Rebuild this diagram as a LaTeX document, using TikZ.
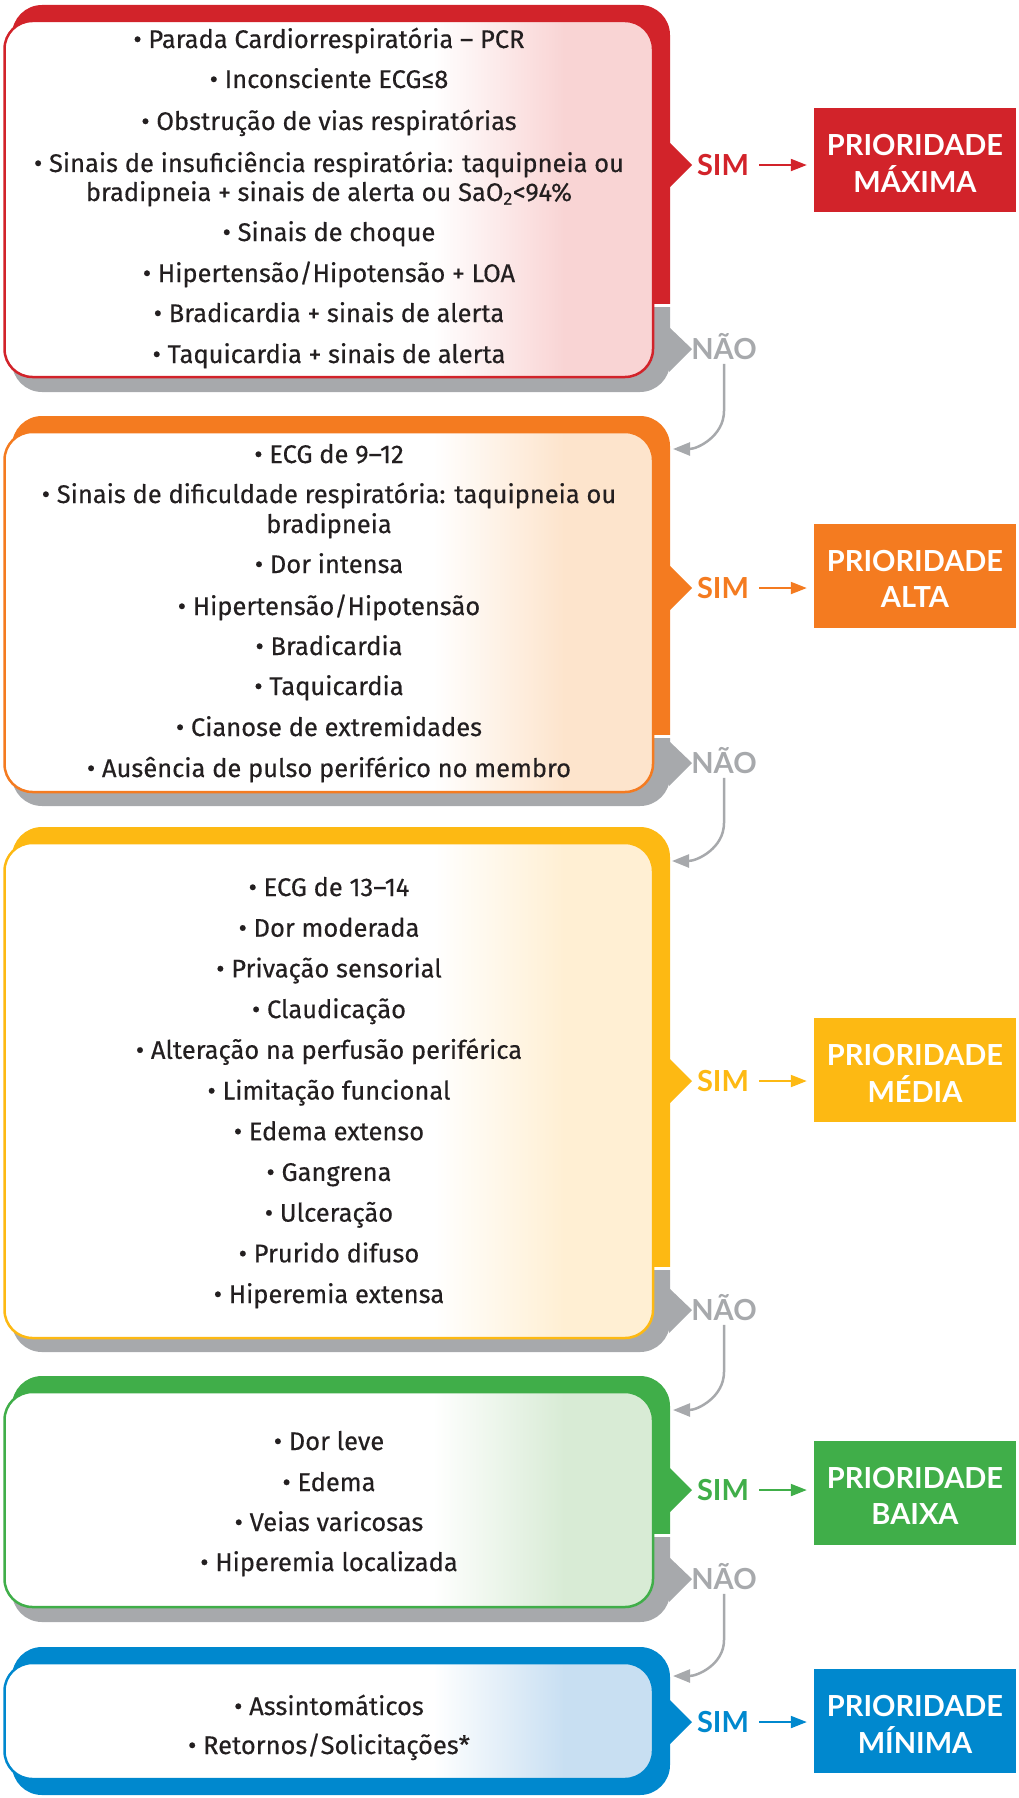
\documentclass[tikz,border=0pt]{standalone}
\usepackage{fontspec}
\setmainfont{Fira Sans}
\newfontfamily\itemfont{Fira Sans}[FakeBold=0.35]
\newfontfamily\labelfont{Lato}
\usetikzlibrary{arrows.meta}
\definecolor{cred}{HTML}{D2232A}
\definecolor{credl}{HTML}{F9D4D4}
\definecolor{corange}{HTML}{F47B20}
\definecolor{corangel}{HTML}{FDE4CC}
\definecolor{cyellow}{HTML}{FDB913}
\definecolor{cyellowl}{HTML}{FFEFD3}
\definecolor{cgreen}{HTML}{40AE49}
\definecolor{cgreenl}{HTML}{D8EBD5}
\definecolor{cblue}{HTML}{0088CE}
\definecolor{cbluel}{HTML}{C8DFF2}
\definecolor{cgray}{HTML}{A7A9AC}
\definecolor{ctext}{HTML}{231F20}
% #1 colour, #2 top, #3 bottom, #4 SIM y, #5 NAO y, #6 end of coloured part
\newcommand\backshape[6]{%
  \begin{scope}
    \clip (0,#2-10) rectangle (1018,#6);
    \fill[#1,rounded corners=30] (12,#2) rectangle (670,#3);
    \fill[#1] (669,#4-23) -- (692,#4) -- (669,#4+23) -- cycle;
  \end{scope}
  \begin{scope}
    \clip (0,#6+4) rectangle (1018,#3+10);
    \fill[cgray,rounded corners=30] (12,#2) rectangle (670,#3);
    \fill[cgray] (669,#5-22) -- (692,#5) -- (669,#5+23) -- cycle;
  \end{scope}}
% #1 colour, #2 light, #3 inner top, #4 inner bottom
\newcommand\innerbox[4]{%
  \begin{scope}
    \clip[rounded corners=28] (4.5,#3) rectangle (653,#4);
    \fill[white] (0,#3) rectangle (435,#4);
    \shade[left color=white,right color=#2] (433,#3) rectangle (565,#4);
    \fill[#2] (563,#3) rectangle (660,#4);
  \end{scope}
  \draw[#1,line width=2.5pt,rounded corners=28] (4.5,#3) rectangle (653,#4);}
\newcommand\prio[1]{\raisebox{-6pt}[\height][\depth]{\begin{tabular}{@{}c@{}}PRIORIDADE\\[-1.5pt]#1\end{tabular}}}
\tikzset{
  item/.style={anchor=base, text=ctext, inner sep=0pt, font=\itemfont\fontsize{25.5}{30}\selectfont},
  yesno/.style={anchor=base, inner sep=0pt, font=\labelfont\bfseries\fontsize{29}{34}\selectfont},
  pbox/.style={minimum width=202pt, minimum height=104pt, inner sep=0pt, text=white,
    font=\labelfont\bfseries\fontsize{29}{38}\selectfont},
  simarrow/.style={line width=2pt, -{Triangle[length=16pt,width=12pt]}},
  noarrow/.style={cgray, line width=2.5pt, shorten <=4pt, -{Triangle[length=17pt,width=13pt]}}
}
\begin{document}
\begin{tikzpicture}[x=1pt,y=-1pt]
\useasboundingbox (0,0) rectangle (1018,1798);
% ---------- block 1 (red)
\backshape{cred}{5}{392}{165}{349}{303}
\innerbox{cred}{credl}{21}{377}
\node[item] (a1) at (329,48) {• Parada Cardiorrespiratória – PCR};
\node[item] (a2) at (329,88) {• Inconsciente ECG≤8};
\node[item] (a3) at (329,130) {• Obstrução de vias respiratórias};
\node[item] (a4) at (329,172) {• Sinais de insuficiência respiratória: taquipneia ou};
\node[item] (a4b) at (329,201) {bradipneia + sinais de alerta ou SaO\textsubscript{2}<94\%};
\node[item] (a5) at (329,241) {• Sinais de choque};
\node[item] (a6) at (329,282) {• Hipertensão/Hipotensão + LOA};
\node[item] (a7) at (329,322) {• Bradicardia + sinais de alerta};
\node[item] (a8) at (329,363) {• Taquicardia + sinais de alerta};
\node[yesno,text=cred] (s1) at (723,175.5) {SIM};
\node[pbox,fill=cred] (p1) at (915,160) {\prio{MÁXIMA}};
\draw[simarrow,cred] ([xshift=10pt]s1.east) -- ([xshift=-7pt]s1.east -| p1.west);
\node[yesno,text=cgray] (n1) at (724,359.5) {NÃO};
% ---------- block 2 (orange)
\backshape{corange}{416}{806}{588}{763}{734}
\innerbox{corange}{corangel}{432}{792}
\node[item] (b1) at (329,463) {• ECG de 9–12};
\node[item] (b2) at (329,503) {• Sinais de dificuldade respiratória: taquipneia ou};
\node[item] (b2b) at (329,533) {bradipneia};
\node[item] (b3) at (329,573) {• Dor intensa};
\node[item] (b4) at (329,615) {• Hipertensão/Hipotensão};
\node[item] (b5) at (329,655) {• Bradicardia};
\node[item] (b6) at (329,695) {• Taquicardia};
\node[item] (b7) at (329,736) {• Cianose de extremidades};
\node[item] (b8) at (329,777) {• Ausência de pulso periférico no membro};
\node[yesno,text=corange] (s2) at (723,598.5) {SIM};
\node[pbox,fill=corange] (p2) at (915,576) {\prio{ALTA}};
\draw[simarrow,corange] ([xshift=10pt]s2.east) -- ([xshift=-7pt]s2.east -| p2.west);
\node[yesno,text=cgray] (n2) at (724,773.5) {NÃO};
\coordinate (t2) at (673,449);
\draw[noarrow] (n1.south) -- ([yshift=38pt]t2 -| n1.south) to[out=-90,in=0] (t2);
% ---------- block 3 (yellow)
\backshape{cyellow}{827}{1352}{1081}{1310}{1266}
\innerbox{cyellow}{cyellowl}{843}{1338}
\node[item] (c1) at (329,896) {• ECG de 13–14};
\node[item] (c2) at (329,936.7) {• Dor moderada};
\node[item] (c3) at (329,977.4) {• Privação sensorial};
\node[item] (c4) at (329,1018.1) {• Claudicação};
\node[item] (c5) at (329,1058.8) {• Alteração na perfusão periférica};
\node[item] (c6) at (329,1099.5) {• Limitação funcional};
\node[item] (c7) at (329,1140.2) {• Edema extenso};
\node[item] (c8) at (329,1180.9) {• Gangrena};
\node[item] (c9) at (329,1221.6) {• Ulceração};
\node[item] (c10) at (329,1262.3) {• Prurido difuso};
\node[item] (c11) at (329,1303) {• Hiperemia extensa};
\node[yesno,text=cyellow] (s3) at (723,1091.5) {SIM};
\node[pbox,fill=cyellow] (p3) at (915,1070) {\prio{MÉDIA}};
\draw[simarrow,cyellow] ([xshift=10pt]s3.east) -- ([xshift=-7pt]s3.east -| p3.west);
\node[yesno,text=cgray] (n3) at (724,1320.5) {NÃO};
\coordinate (t3) at (672,861);
\draw[noarrow] (n2.south) -- ([yshift=38pt]t3 -| n2.south) to[out=-90,in=0] (t3);
% ---------- block 4 (green)
\backshape{cgreen}{1376}{1622}{1490}{1579}{1533}
\innerbox{cgreen}{cgreenl}{1392}{1607}
\node[item] (d1) at (329,1450) {• Dor leve};
\node[item] (d2) at (329,1491) {• Edema};
\node[item] (d3) at (329,1531) {• Veias varicosas};
\node[item] (d4) at (329,1571) {• Hiperemia localizada};
\node[yesno,text=cgreen] (s4) at (723,1500.5) {SIM};
\node[pbox,fill=cgreen] (p4) at (915,1493) {\prio{BAIXA}};
\draw[simarrow,cgreen] ([xshift=10pt]s4.east) -- ([xshift=-7pt]s4.east -| p4.west);
\node[yesno,text=cgray] (n4) at (724,1589.5) {NÃO};
\coordinate (t4) at (673,1410);
\draw[noarrow] (n3.south) -- ([yshift=38pt]t4 -| n3.south) to[out=-90,in=0] (t4);
% ---------- block 5 (blue)
\fill[cblue,rounded corners=30] (12,1647) rectangle (670,1795);
\fill[cblue] (669,1699) -- (692,1722) -- (669,1745) -- cycle;
\innerbox{cblue}{cbluel}{1663}{1779}
\node[item] (e1) at (329,1715) {• Assintomáticos};
\node[item] (e2) at (329,1754) {• Retornos/Solicitações*};
\node[yesno,text=cblue] (s5) at (723,1732.5) {SIM};
\node[pbox,fill=cblue] (p5) at (915,1721) {\prio{MÍNIMA}};
\draw[simarrow,cblue] ([xshift=10pt]s5.east) -- ([xshift=-7pt]s5.east -| p5.west);
\coordinate (t5) at (673,1676);
\draw[noarrow] (n4.south) -- ([yshift=36pt]t5 -| n4.south) to[out=-90,in=0] (t5);
\end{tikzpicture}
\end{document}
